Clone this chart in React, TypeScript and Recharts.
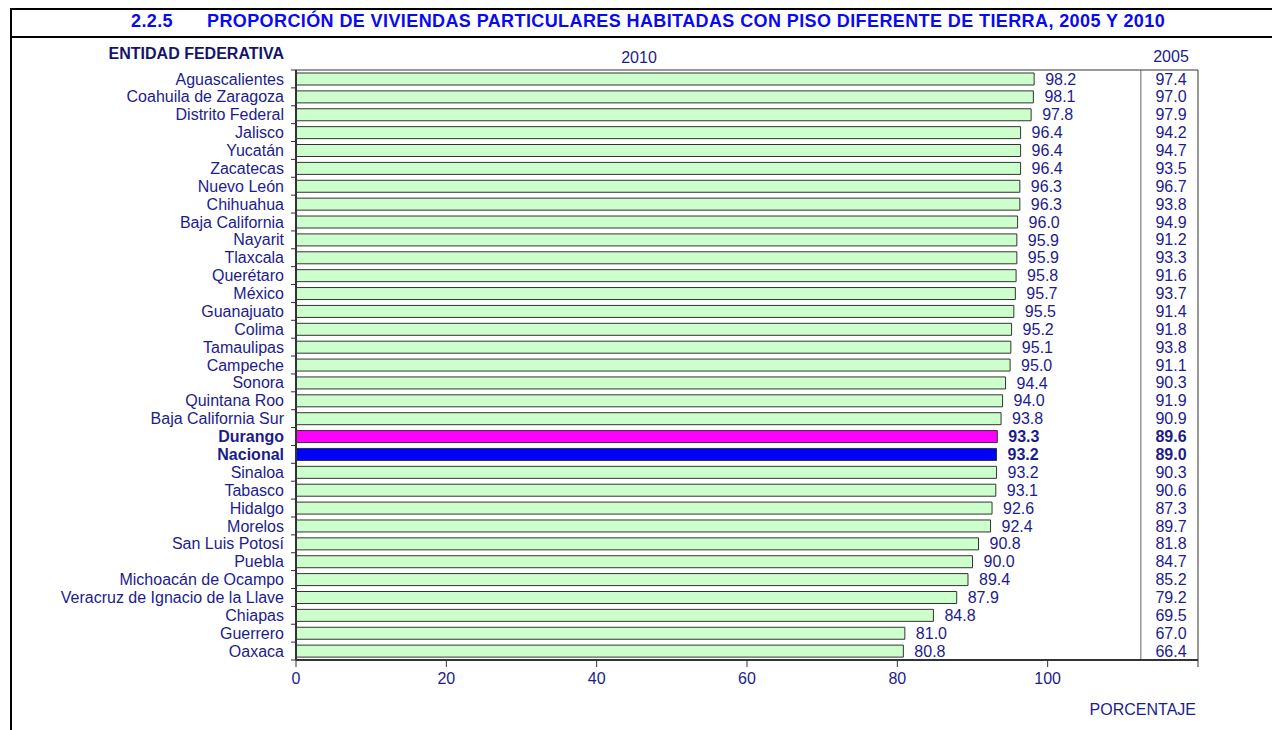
import React from 'react';
import { BarChart, Bar, XAxis, YAxis, Cell, LabelList, ReferenceLine } from 'recharts';

const STATES = [
  'Aguascalientes', 'Coahuila de Zaragoza', 'Distrito Federal', 'Jalisco', 'Yucatán',
  'Zacatecas', 'Nuevo León', 'Chihuahua', 'Baja California', 'Nayarit', 'Tlaxcala',
  'Querétaro', 'México', 'Guanajuato', 'Colima', 'Tamaulipas', 'Campeche', 'Sonora',
  'Quintana Roo', 'Baja California Sur', 'Durango', 'Nacional', 'Sinaloa', 'Tabasco',
  'Hidalgo', 'Morelos', 'San Luis Potosí', 'Puebla', 'Michoacán de Ocampo',
  'Veracruz de Ignacio de la Llave', 'Chiapas', 'Guerrero', 'Oaxaca',
];
const V2010 = [
  98.2, 98.1, 97.8, 96.4, 96.4, 96.4, 96.3, 96.3, 96.0, 95.9, 95.9, 95.8, 95.7, 95.5,
  95.2, 95.1, 95.0, 94.4, 94.0, 93.8, 93.3, 93.2, 93.2, 93.1, 92.6, 92.4, 90.8, 90.0,
  89.4, 87.9, 84.8, 81.0, 80.8,
];
const V2005 = [
  97.4, 97.0, 97.9, 94.2, 94.7, 93.5, 96.7, 93.8, 94.9, 91.2, 93.3, 91.6, 93.7, 91.4,
  91.8, 93.8, 91.1, 90.3, 91.9, 90.9, 89.6, 89.0, 90.3, 90.6, 87.3, 89.7, 81.8, 84.7,
  85.2, 79.2, 69.5, 67.0, 66.4,
];
const X_TICKS = [0, 20, 40, 60, 80, 100, 120];
const TITLE_NUM = '2.2.5';
const TITLE = 'PROPORCIÓN DE VIVIENDAS PARTICULARES HABITADAS CON PISO DIFERENTE DE TIERRA, 2005 Y 2010';

const FONT = '"Liberation Sans", Arial, sans-serif';
const NAVY = '#1c1c8c';
const TITLE_BLUE = '#0a0af0';
const AXIS = '#333333';
const PLOT_TOP = 70;
const PLOT_BOTTOM = 660;
const BAND = (PLOT_BOTTOM - PLOT_TOP) / STATES.length;
// column divider between the 2010 bars and the 2005 figures (x-axis units)
const COL_DIVIDER = 112.4;

const data = STATES.map((name, i) => ({ name, v2010: V2010[i], v2005: V2005[i] }));

const isBold = (name: string) => name === 'Durango' || name === 'Nacional';
const barFill = (name: string) =>
  name === 'Durango' ? '#ff00ff' : name === 'Nacional' ? '#0000ff' : '#ccffcc';

function StateTick(props: any) {
  const { x, y, payload, index } = props;
  const name = payload.value as string;
  const axisX = x + 12;
  return (
    <g>
      <line x1={axisX - 5} x2={axisX} y1={y - BAND / 2} y2={y - BAND / 2} stroke={AXIS} />
      {index === STATES.length - 1 && (
        <line x1={axisX - 5} x2={axisX} y1={y + BAND / 2} y2={y + BAND / 2} stroke={AXIS} />
      )}
      <text
        x={x}
        y={y}
        dy="0.35em"
        textAnchor="end"
        fontSize={16}
        fontFamily={FONT}
        fontWeight={isBold(name) ? 700 : 400}
        fill={NAVY}
      >
        {name}
      </text>
    </g>
  );
}

function Tick2005(props: any) {
  const { y, payload } = props;
  const i = STATES.indexOf(payload.value);
  return (
    <text
      x={1171}
      y={y}
      dy="0.35em"
      textAnchor="middle"
      fontSize={16}
      fontFamily={FONT}
      fontWeight={isBold(STATES[i]) ? 700 : 400}
      fill={NAVY}
    >
      {V2005[i].toFixed(1)}
    </text>
  );
}

function ValueLabel(props: any) {
  const { x, y, width, height, value, index } = props;
  return (
    <text
      x={x + width + 11}
      y={y + height / 2}
      dy="0.35em"
      textAnchor="start"
      fontSize={16}
      fontFamily={FONT}
      fontWeight={isBold(STATES[index]) ? 700 : 400}
      fill={NAVY}
    >
      {Number(value).toFixed(1)}
    </text>
  );
}

const textStyle: React.CSSProperties = {
  position: 'absolute',
  fontFamily: FONT,
  fontSize: 16,
  lineHeight: '16px',
  whiteSpace: 'nowrap',
  color: NAVY,
};

const titleStyle: React.CSSProperties = {
  ...textStyle,
  fontSize: 18,
  lineHeight: '18px',
  fontWeight: 700,
  letterSpacing: '0.4px',
  color: TITLE_BLUE,
  top: 12,
};

export default function App() {
  return (
    <div
      style={{
        position: 'absolute',
        left: 0,
        top: 0,
        width: 1272,
        height: 730,
        overflow: 'hidden',
        background: '#fff',
      }}
    >
      <div
        style={{
          position: 'absolute',
          left: 10,
          top: 8,
          width: 1320,
          height: 800,
          border: '2px solid #000',
          boxSizing: 'border-box',
        }}
      />
      <div style={{ position: 'absolute', left: 10, top: 36, width: 1320, height: 2, background: '#000' }} />
      <div style={{ ...titleStyle, left: 131 }}>{TITLE_NUM}</div>
      <div style={{ ...titleStyle, left: 207 }}>{TITLE}</div>
      <div style={{ ...textStyle, right: 1272 - 284, top: 46, fontWeight: 700, color: '#14146e' }}>
        ENTIDAD FEDERATIVA
      </div>
      <div style={{ ...textStyle, left: 639, top: 50, transform: 'translateX(-50%)' }}>2010</div>
      <div style={{ ...textStyle, left: 1171, top: 49, transform: 'translateX(-50%)' }}>2005</div>
      <div style={{ ...textStyle, right: 1272 - 1196, top: 702 }}>PORCENTAJE</div>

      <div style={{ position: 'absolute', left: 0, top: 0 }}>
        <BarChart
          width={1272}
          height={730}
          data={data}
          layout="vertical"
          margin={{ top: PLOT_TOP - 1, right: 73, bottom: 30, left: 6 }}
        >
          <XAxis
            type="number"
            domain={[0, 120]}
            ticks={X_TICKS}
            interval={0}
            tickFormatter={(v: number) => (v === 120 ? '' : String(v))}
            tickSize={7}
            tickMargin={6}
            height={40}
            axisLine={{ stroke: AXIS, strokeWidth: 2 }}
            tickLine={{ stroke: AXIS }}
            tick={{ fill: NAVY, fontSize: 16, fontFamily: FONT }}
          />
          <XAxis
            xAxisId="top"
            orientation="top"
            type="number"
            domain={[0, 120]}
            height={1}
            tick={false}
            tickLine={false}
            axisLine={{ stroke: AXIS }}
          />
          <YAxis
            type="category"
            dataKey="name"
            width={290}
            interval={0}
            tickSize={5}
            tickMargin={7}
            tickLine={false}
            axisLine={{ stroke: AXIS, strokeWidth: 2 }}
            tick={<StateTick />}
          />
          <YAxis
            yAxisId="r"
            orientation="right"
            type="category"
            dataKey="name"
            width={1}
            interval={0}
            tickSize={0}
            tickMargin={0}
            tickLine={false}
            axisLine={{ stroke: AXIS }}
            tick={<Tick2005 />}
          />
          <ReferenceLine x={COL_DIVIDER} stroke="#666" />
          <Bar dataKey="v2010" barSize={12} stroke={AXIS} strokeWidth={1} isAnimationActive={false}>
            {data.map((d) => (
              <Cell key={d.name} fill={barFill(d.name)} />
            ))}
            <LabelList dataKey="v2010" content={<ValueLabel />} />
          </Bar>
        </BarChart>
      </div>
    </div>
  );
}
